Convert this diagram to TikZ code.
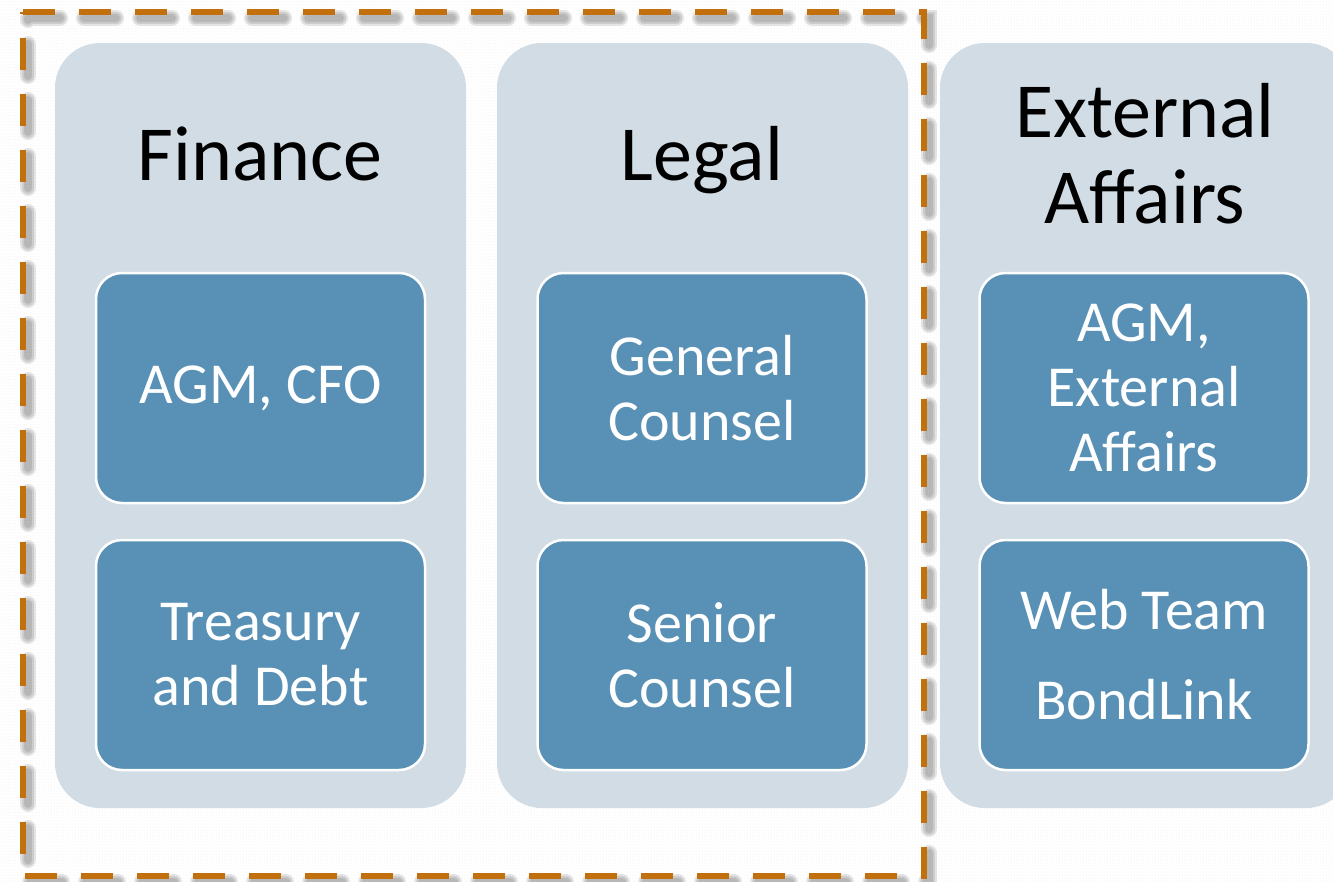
\documentclass[tikz,border=0pt]{standalone}
\usepackage{fontspec}
\setmainfont{Carlito}
\usetikzlibrary{patterns}
\definecolor{panelfill}{HTML}{D1DCE4}
\definecolor{tilefill}{HTML}{5891B5}
\definecolor{rust}{HTML}{C2700E}
\begin{document}
\begin{tikzpicture}[x=1pt,y=-1pt,
  panelbox/.style={fill=panelfill, rounded corners=45pt, minimum width=411pt,
    minimum height=765pt, inner sep=0, draw=none},
  tilebox/.style={fill=tilefill, draw=white, line width=2.5pt, rounded corners=26pt,
    minimum width=329pt, minimum height=230pt, inner sep=0, text=white, align=center,
    font=\fontsize{58}{65}\selectfont},
  headtext/.style={font=\fontsize{78}{86}\selectfont, align=center, inner sep=0},
  groupline/.style={draw=rust, line width=6pt, dash pattern=on 32pt off 24pt},
  groupshadow/.style={draw=black, line width=#1, dash pattern=on 32pt off 24pt,
    opacity=0.1}]
  % canvas and clipping
  \useasboundingbox (0,0) rectangle (1333,881);
  \clip (0,0) rectangle (1333,881);
  \fill[white] (0,0) rectangle (1333,881);
  \fill[pattern=dots, pattern color=black!8] (0,0) rectangle (1333,881);

  % department panels
  \node[panelbox] (finance) at (260.5,425.5) {};
  \node[panelbox] (legal) at (702.5,425.5) {};
  \node[panelbox] (external) at (1145.5,425.5) {};

  % panel titles (base anchor sits on the last line)
  \node[headtext, anchor=base] (financet) at (260,180) {Finance};
  \node[headtext, anchor=base] (legalt) at (702,180) {Legal};
  \node[headtext, anchor=base] (externalt) at (1145,223) {External\\Affairs};

  % role tiles
  \node[tilebox] (agmcfo) at (260.5,388) {AGM, CFO};
  \node[tilebox] (treasury) at (260.5,655) {Treasury\\and Debt};
  \node[tilebox] (gencounsel) at (702,388) {General\\Counsel};
  \node[tilebox] (srcounsel) at (702,655) {Senior\\Counsel};
  \node[tilebox] (agmext) at (1144,388) {AGM,\\External\\Affairs};
  \node[tilebox] (webteam) at (1144,655) {Web Team\\[25pt]BondLink};

  % grouping outline with soft shadow
  \coordinate (gtl) at (23,12);
  \coordinate (gbr) at (924,876);
  \foreach \w in {16pt,12pt,8pt}
    \draw[groupshadow=\w, line cap=round]
      ([shift={(5,6)}]gtl) -- ([shift={(5,6)}]gtl -| gbr) -- ([shift={(5,6)}]gbr)
      -- ([shift={(5,6)}]gbr -| gtl) -- cycle;
  \draw[groupline] (gtl) -- (gtl -| gbr) -- (gbr) -- (gbr -| gtl) -- cycle;
\end{tikzpicture}
\end{document}
